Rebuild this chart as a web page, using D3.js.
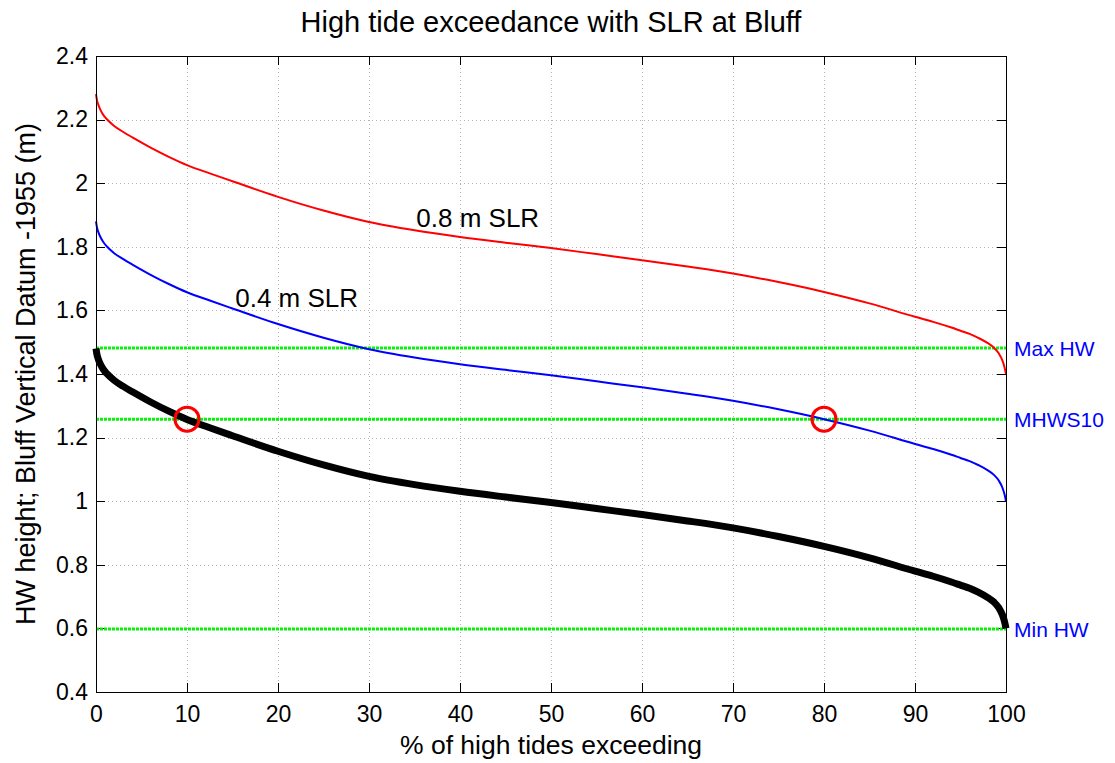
<!DOCTYPE html>
<meta charset="utf-8">
<title>High tide exceedance with SLR at Bluff</title>
<style>
body { margin: 0; background: #fff; }
text { font-family: Arial, "Liberation Sans", Helvetica, sans-serif; fill: #000; }
.grid line { stroke: #b4b4b4; stroke-width: 1; stroke-dasharray: 1,3; shape-rendering: crispEdges; }
.frame { fill: none; stroke: #000; stroke-width: 1; shape-rendering: crispEdges; }
.tick line { stroke: #000; shape-rendering: crispEdges; }
</style>
<svg width="1115" height="763"></svg>
<script src="https://cdn.jsdelivr.net/npm/d3@7"></script>
<script>

// % of high tides exceeding (x) and HW heights
var pct = [0, 0.1, 0.25, 0.5, 0.8, 1.2, 2, 3, 4, 6, 8, 10, 12.5, 15, 20, 25, 30, 35, 40, 45, 50,
           55, 60, 65, 70, 75, 80, 85, 90, 92, 94, 95, 96, 97, 98, 98.7, 99.2, 99.6, 99.85, 100];
var present = [1.48, 1.462, 1.447, 1.43, 1.415, 1.401, 1.38, 1.361, 1.344, 1.312, 1.283, 1.257,
               1.231, 1.206, 1.157, 1.114, 1.078, 1.052, 1.031, 1.013, 0.996,
               0.977, 0.958, 0.938, 0.916, 0.889, 0.858, 0.822, 0.78, 0.764, 0.746, 0.736,
               0.726, 0.713, 0.697, 0.682, 0.665, 0.643, 0.62, 0.6];
var slr04 = [1.88, 1.862, 1.847, 1.83, 1.815, 1.801, 1.78, 1.761, 1.744, 1.712, 1.683, 1.657,
             1.631, 1.606, 1.557, 1.514, 1.478, 1.452, 1.431, 1.413, 1.396,
             1.377, 1.358, 1.338, 1.316, 1.289, 1.258, 1.222, 1.18, 1.164, 1.146, 1.136,
             1.126, 1.113, 1.097, 1.082, 1.065, 1.043, 1.02, 1.0];
var slr08 = [2.28, 2.262, 2.247, 2.23, 2.215, 2.201, 2.18, 2.161, 2.144, 2.112, 2.083, 2.057,
             2.031, 2.006, 1.957, 1.914, 1.878, 1.852, 1.831, 1.813, 1.796,
             1.777, 1.758, 1.738, 1.716, 1.689, 1.658, 1.622, 1.58, 1.564, 1.546, 1.536,
             1.526, 1.513, 1.497, 1.482, 1.465, 1.443, 1.42, 1.4];

var levelNames = ["Max HW", "MHWS10", "Min HW"];
var levelValues = [1.482, 1.258, 0.598];

var markPct = [10, 80];
var markVal = [1.258, 1.258];

var xTicks = [0, 10, 20, 30, 40, 50, 60, 70, 80, 90, 100];
var yTicks = [0.4, 0.6, 0.8, 1, 1.2, 1.4, 1.6, 1.8, 2, 2.2, 2.4];

var svg = d3.select("svg");
var pL = 96, pR = 1006, pT = 56, pB = 692;

var x = d3.scaleLinear().domain([0, 100]).range([pL, pR]);
var y = d3.scaleLinear().domain([0.4, 2.4]).range([pB, pT]);

// grid
var grid = svg.append("g").attr("class", "grid");
grid.selectAll(".gx").data(xTicks.slice(1, -1)).enter().append("line")
    .attr("x1", function(d) { return Math.round(x(d)) + 0.5; })
    .attr("x2", function(d) { return Math.round(x(d)) + 0.5; })
    .attr("y1", pT).attr("y2", pB);
grid.selectAll(".gy").data(yTicks.slice(1, -1)).enter().append("line")
    .attr("y1", function(d) { return Math.round(y(d)) + 0.5; })
    .attr("y2", function(d) { return Math.round(y(d)) + 0.5; })
    .attr("x1", pL).attr("x2", pR);

// axes with inward ticks on all four sides
var fmt = function(d) { return String(+d.toFixed(1)); };
function styleTicks(g) {
  g.select(".domain").remove();
  g.selectAll("text").style("font-size", "23px").style("font-family", "Arial, 'Liberation Sans', sans-serif");
}
svg.append("g").attr("transform", "translate(0," + pB + ")")
    .call(d3.axisBottom(x).tickValues(xTicks).tickSizeInner(-9).tickSizeOuter(0).tickPadding(14).tickFormat(fmt))
    .call(styleTicks);
svg.append("g").attr("transform", "translate(0," + pT + ")")
    .call(d3.axisTop(x).tickValues(xTicks).tickSizeInner(-9).tickSizeOuter(0).tickFormat(""))
    .call(styleTicks);
svg.append("g").attr("transform", "translate(" + pL + ",0)")
    .call(d3.axisLeft(y).tickValues(yTicks).tickSizeInner(-9).tickSizeOuter(0).tickPadding(8).tickFormat(fmt))
    .call(styleTicks);
svg.append("g").attr("transform", "translate(" + pR + ",0)")
    .call(d3.axisRight(y).tickValues(yTicks).tickSizeInner(-9).tickSizeOuter(0).tickFormat(""))
    .call(styleTicks);

// reference levels
svg.append("g").selectAll("line").data(levelValues).enter().append("line")
    .attr("x1", x(0)).attr("x2", x(100))
    .attr("y1", function(d) { return y(d); })
    .attr("y2", function(d) { return y(d); })
    .attr("stroke", "#0af00a").attr("stroke-width", 3).attr("stroke-dasharray", "3,1");

// curves
var series = [
  { values: present, color: "#000", width: 7 },
  { values: slr04, color: "#0000ff", width: 2 },
  { values: slr08, color: "#ff0000", width: 2 }
];
var line = d3.line()
    .x(function(d, i) { return x(pct[i]); })
    .y(function(d) { return y(d); })
    .curve(d3.curveMonotoneX);

svg.append("g").selectAll("path").data(series).enter().append("path")
    .attr("d", function(s) { return line(s.values); })
    .attr("fill", "none")
    .attr("stroke", function(s) { return s.color; })
    .attr("stroke-width", function(s) { return s.width; })
    .attr("stroke-linejoin", "round");

// red circles where curves meet MHWS10
svg.append("g").selectAll("circle").data(markPct).enter().append("circle")
    .attr("cx", function(d) { return x(d); })
    .attr("cy", function(d, i) { return y(markVal[i]); })
    .attr("r", 12)
    .attr("fill", "none").attr("stroke", "#ff0000").attr("stroke-width", 3);

// frame
svg.append("rect").attr("class", "frame")
    .attr("x", pL + 0.5).attr("y", pT + 0.5)
    .attr("width", pR - pL).attr("height", pB - pT);

// curve labels
svg.append("text").attr("x", x(35.2)).attr("y", y(1.862)).style("font-size", "26px").text("0.8 m SLR");
svg.append("text").attr("x", x(15.3)).attr("y", y(1.611)).style("font-size", "26px").text("0.4 m SLR");

// level labels
svg.append("g").selectAll("text").data(levelNames).enter().append("text")
    .attr("x", pR + 8)
    .attr("y", function(d, i) { return y(levelValues[i]) + 8; })
    .style("font-size", "21px").style("fill", "#0000ff")
    .text(function(d) { return d; });

// titles
svg.append("text").attr("x", (pL + pR) / 2).attr("y", 32)
    .attr("text-anchor", "middle").style("font-size", "29px")
    .text("High tide exceedance with SLR at Bluff");
svg.append("text").attr("x", (pL + pR) / 2).attr("y", 754)
    .attr("text-anchor", "middle").style("font-size", "26.5px")
    .text("% of high tides exceeding");
svg.append("text").attr("transform", "translate(35," + (pT + pB) / 2 + ") rotate(-90)")
    .attr("text-anchor", "middle").style("font-size", "27px")
    .text("HW height; Bluff Vertical Datum -1955 (m)");

</script>
